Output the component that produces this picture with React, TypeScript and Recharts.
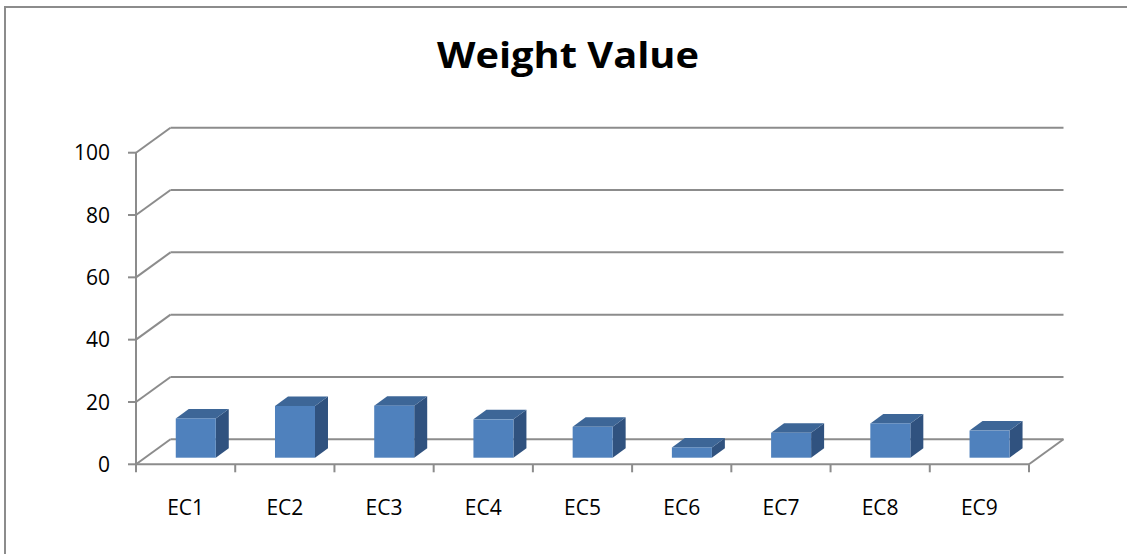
import React from "react";
import { BarChart, Bar, XAxis, YAxis, CartesianGrid, Customized } from "recharts";

const CATEGORIES = ["EC1", "EC2", "EC3", "EC4", "EC5", "EC6", "EC7", "EC8", "EC9"];
const WEIGHTS = [12.6, 16.6, 16.7, 12.3, 9.9, 3.3, 8.0, 11.0, 8.7];
const Y_TICKS = [0, 20, 40, 60, 80, 100];
const TITLE = "Weight Value";

const data = CATEGORIES.map((name, i) => ({ name, value: WEIGHTS[i] }));

const W = 1127;
const H = 554;
const Y_AXIS_W = 60;
const X_AXIS_H = 30;
const MARGIN = { top: 152.7, left: 76, right: 98, bottom: 59.7 };
const PLOT_LEFT = MARGIN.left + Y_AXIS_W;
const PLOT_W = W - PLOT_LEFT - MARGIN.right;
const BAND = PLOT_W / CATEGORIES.length;

const DEPTH_X = 34.5;
const DEPTH_Y = -25;
const BAR_OFF_X = 10;
const BAR_OFF_Y = -6.6;
const BAR_DEPTH_X = 13;
const BAR_DEPTH_Y = -9.5;

const GRID = "#8C8C8C";
const FRONT = "#4F81BD";
const TOP = "#3D6697";
const SIDE = "#30527F";
const FONT = "'Open Sans', sans-serif";

const Y_TICK_SIZE = 8;
const Y_TICK_MARGIN = 18;
const X_TICK_SIZE = 8;

const YTick = (props: any) => {
  const { x, y, payload } = props;
  const ax = x + Y_TICK_SIZE + Y_TICK_MARGIN;
  return (
    <g>
      <line x1={ax} y1={y} x2={ax + DEPTH_X} y2={y + DEPTH_Y} stroke={GRID} strokeWidth={2} />
      <text x={x} y={y} dy="0.36em" textAnchor="end" fontFamily={FONT} fontSize={21} fill="#000">
        {payload.value}
      </text>
    </g>
  );
};

const XTick = (props: any) => {
  const { x, y, payload, index } = props;
  const floorY = y - X_TICK_SIZE;
  const left = x - BAND / 2;
  const right = x + BAND / 2;
  const isLast = index === CATEGORIES.length - 1;
  return (
    <g>
      <line x1={left} y1={floorY} x2={left} y2={floorY + X_TICK_SIZE} stroke={GRID} strokeWidth={2} />
      {isLast && (
        <>
          <line x1={right} y1={floorY} x2={right} y2={floorY + X_TICK_SIZE} stroke={GRID} strokeWidth={2} />
          <line x1={right} y1={floorY} x2={right + DEPTH_X} y2={floorY + DEPTH_Y} stroke={GRID} strokeWidth={2} />
        </>
      )}
      <text x={x} y={floorY + 51} textAnchor="middle" fontFamily={FONT} fontSize={21} fill="#000">
        {payload.value}
      </text>
    </g>
  );
};

const Box3D = (props: any) => {
  const { x, y, width, height } = props;
  if (width == null || height == null) return null;
  const fx = x + BAR_OFF_X;
  const fy = y + BAR_OFF_Y;
  const w = width;
  const h = height;
  const top = `${fx},${fy} ${fx + w},${fy} ${fx + w + BAR_DEPTH_X},${fy + BAR_DEPTH_Y} ${fx + BAR_DEPTH_X},${fy + BAR_DEPTH_Y}`;
  const side = `${fx + w},${fy} ${fx + w + BAR_DEPTH_X},${fy + BAR_DEPTH_Y} ${fx + w + BAR_DEPTH_X},${fy + h + BAR_DEPTH_Y} ${fx + w},${fy + h}`;
  return (
    <g>
      <polygon points={side} fill={SIDE} />
      <polygon points={top} fill={TOP} />
      <rect x={fx} y={fy} width={w} height={h} fill={FRONT} />
    </g>
  );
};

const Title = () => (
  <text
    x={568}
    y={68}
    textAnchor="middle"
    fontFamily={FONT}
    fontWeight={700}
    fontSize={36}
    fill="#000"
    textLength={262}
    lengthAdjust="spacingAndGlyphs"
  >
    {TITLE}
  </text>
);

export default function App() {
  return (
    <div style={{ position: "absolute", left: 0, top: 0, width: W, height: H, background: "#fff", overflow: "hidden" }}>
      <div
        style={{
          position: "absolute",
          left: 4,
          top: 6,
          width: W,
          height: H,
          borderLeft: `2px solid ${GRID}`,
          borderTop: `2px solid ${GRID}`,
        }}
      />
      <div style={{ position: "absolute", left: 0, top: 0 }}>
        <BarChart width={W} height={H} data={data} margin={MARGIN} barCategoryGap="30%">
          <CartesianGrid
            vertical={false}
            horizontal
            stroke={GRID}
            strokeWidth={2}
            x={PLOT_LEFT + DEPTH_X}
            width={PLOT_W}
            horizontalCoordinatesGenerator={(args: any) => {
              const yAxis = args.yAxis;
              const off = args.offset;
              return Y_TICKS.map((t) => {
                const base =
                  yAxis && typeof yAxis.scale === "function"
                    ? yAxis.scale(t)
                    : off.top + off.height * (1 - t / 100);
                return base + DEPTH_Y;
              });
            }}
          />
          <XAxis
            dataKey="name"
            height={X_AXIS_H}
            tickLine={false}
            tickSize={X_TICK_SIZE}
            tickMargin={0}
            axisLine={{ stroke: GRID, strokeWidth: 2 }}
            tick={<XTick />}
            interval={0}
          />
          <YAxis
            width={Y_AXIS_W}
            domain={[0, 100]}
            ticks={Y_TICKS}
            interval={0}
            tickSize={Y_TICK_SIZE}
            tickMargin={Y_TICK_MARGIN}
            tickLine={{ stroke: GRID, strokeWidth: 2 }}
            axisLine={{ stroke: GRID, strokeWidth: 2 }}
            tick={<YTick />}
          />
          <Bar dataKey="value" shape={<Box3D />} isAnimationActive={false} />
          <Customized component={<Title />} />
        </BarChart>
      </div>
    </div>
  );
}
